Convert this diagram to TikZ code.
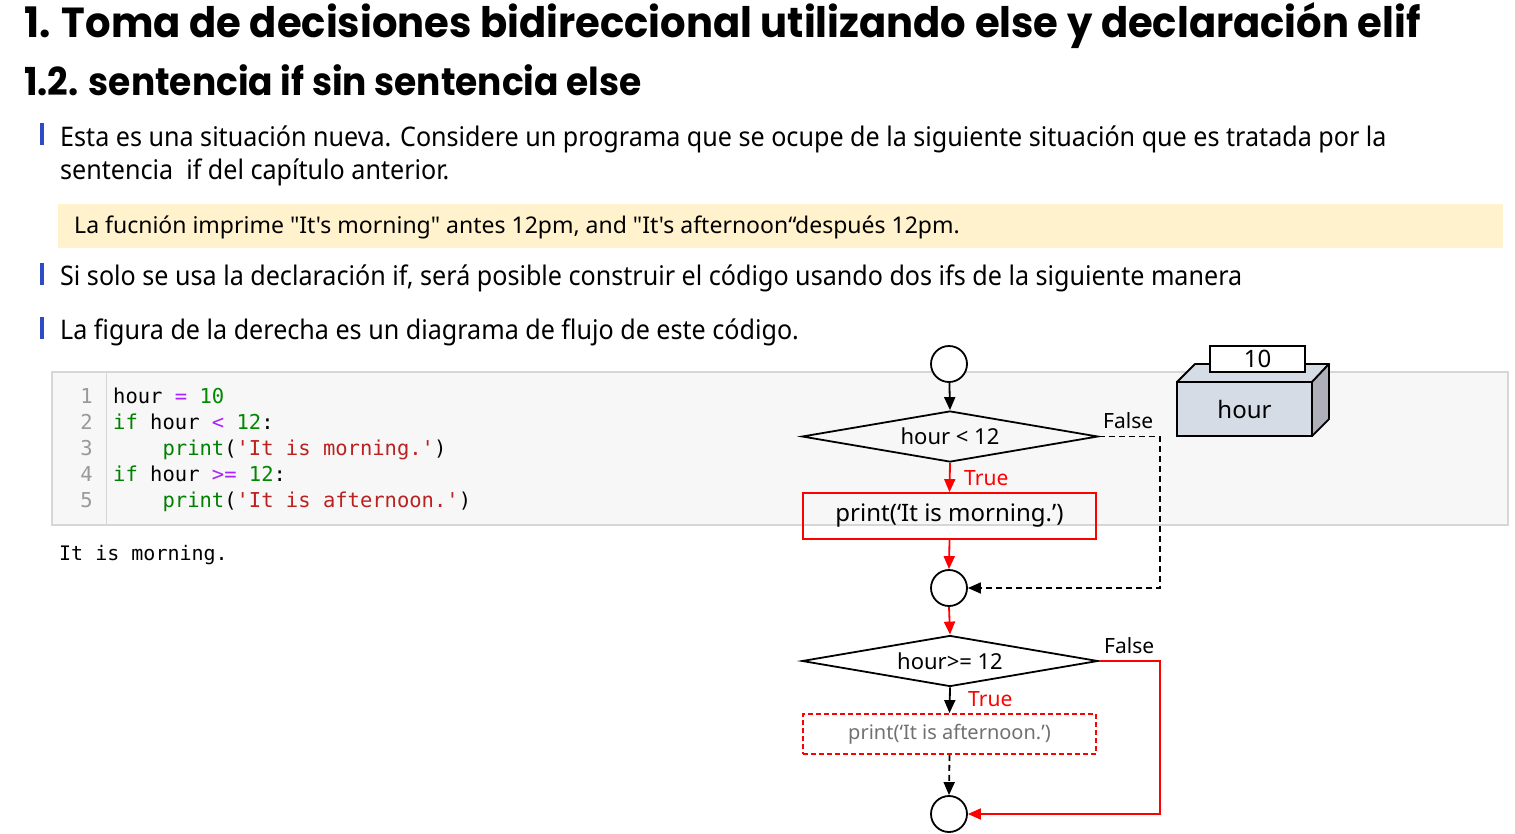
\documentclass[tikz,border=0pt]{standalone}
\usepackage{fontspec}
\usetikzlibrary{shapes.geometric,arrows.meta}
\newfontfamily\bodyfont{Noto Sans}[FakeStretch=0.93]
\newfontfamily\flowfont{Noto Sans}
\newfontfamily\titlefont{Poppins}[FakeStretch=0.955]
\newfontfamily\subtitlefont{Poppins}[FakeStretch=0.935]
\newfontfamily\codefont{DejaVu Sans Mono}
\definecolor{bulletblue}{HTML}{2E4BC6}
\definecolor{notebg}{HTML}{FFF2CC}
\definecolor{codebg}{HTML}{F7F7F7}
\definecolor{codeborder}{HTML}{D6D6D6}
\definecolor{kw}{HTML}{008000}
\definecolor{num}{HTML}{008800}
\definecolor{op}{HTML}{AA22FF}
\definecolor{str}{HTML}{BA2121}
\definecolor{lno}{HTML}{999999}
\definecolor{boxfront}{HTML}{D6DCE5}
\definecolor{boxside}{HTML}{ADB0B8}
\definecolor{flowred}{HTML}{FF0000}
\definecolor{dimtext}{HTML}{707070}
\tikzset{
  body/.style={font=\bodyfont\fontsize{27}{30}\selectfont, inner sep=0, anchor=base west},
  notetext/.style={font=\flowfont\fontsize{23}{28}\selectfont, inner sep=0, anchor=base west},
  bar/.style={fill=bulletblue, draw=none},
  codetext/.style={font=\codefont\fontsize{20.5}{24}\selectfont, inner sep=0, anchor=base west},
  lnum/.style={font=\codefont\fontsize{20.5}{24}\selectfont, inner sep=0, anchor=base east, text=lno},
  conn/.style={circle, draw, line width=1.8pt, fill=white, minimum size=36pt, inner sep=0},
  decision/.style={diamond, draw, line width=1.8pt, aspect=5.8, minimum width=296pt, minimum height=51pt, inner sep=0, font=\flowfont\fontsize{22}{26}\selectfont},
  proc/.style={rectangle, draw=flowred, line width=1.8pt, minimum width=293pt, inner sep=0, font=\flowfont\fontsize{24}{28}\selectfont},
  arr/.style={line width=1.8pt, -{Triangle[length=13pt,width=11pt]}},
  dash1/.style={dash pattern=on 6pt off 4pt},
  lbl/.style={font=\flowfont\fontsize{21}{24}\selectfont, inner sep=0, anchor=base west},
}
\begin{document}
\begin{tikzpicture}[x=1pt,y=-1pt]
\useasboundingbox (0,0) rectangle (1515,833);
% titles
\node[anchor=base west, inner sep=0, font=\titlefont\bfseries\fontsize{42}{48}\selectfont] (t1) at (24,37) {1. Toma de decisiones bidireccional utilizando else y declaración elif};
\node[anchor=base west, inner sep=0, font=\subtitlefont\bfseries\fontsize{38.5}{44}\selectfont] (t2) at (24,95) {1.2. sentencia if sin sentencia else};
% bullets
\fill[bar] (40,123) rectangle (44,145);
\fill[bar] (40,263) rectangle (44,285);
\fill[bar] (40,317) rectangle (44,339);
\node[body] (b1) at (60,146) {Esta es una situación nueva. Considere un programa que se ocupe de la siguiente situación que es tratada por la};
\node[body] (b1b) at (60,179) {sentencia\ \ if del capítulo anterior.};
\fill[notebg] (58,204) rectangle (1503,248);
\node[notetext] (nt) at (74,233) {La fucnión imprime "It's morning" antes 12pm, and "It's afternoon“después 12pm.};
\node[body] (b2) at (60,285) {Si solo se usa la declaración if, será posible construir el código usando dos ifs de la siguiente manera};
\node[body] (b3) at (60,339) {La figura de la derecha es un diagrama de flujo de este código.};
% code box
\draw[fill=codebg, draw=codeborder, line width=1.5pt] (52,372) rectangle (1508,525);
\draw[codeborder, line width=1pt] (106,373) -- (106,524);
\node[lnum] (n1) at (93,403) {1};
\node[lnum] (n2) at (93,429) {2};
\node[lnum] (n3) at (93,455) {3};
\node[lnum] (n4) at (93,481) {4};
\node[lnum] (n5) at (93,507) {5};
\node[codetext] (c1) at (113,403) {hour \textcolor{op}{=} \textcolor{num}{10}};
\node[codetext] (c2) at (113,429) {\textcolor{kw}{if} hour \textcolor{op}{<} \textcolor{num}{12}:};
\node[codetext] (c3) at (113,455) {\ \ \ \ \textcolor{kw}{print}(\textcolor{str}{'It is morning.'})};
\node[codetext] (c4) at (113,481) {\textcolor{kw}{if} hour \textcolor{op}{>=} \textcolor{num}{12}:};
\node[codetext] (c5) at (113,507) {\ \ \ \ \textcolor{kw}{print}(\textcolor{str}{'It is afternoon.'})};
\node[codetext, font=\codefont\fontsize{20}{24}\selectfont] (out) at (59,560) {It is morning.};
% variable box
\draw[line width=1.8pt, fill=boxfront, line join=round] (1177,382) -- (1195,364) -- (1329,364) -- (1312,382) -- cycle;
\draw[line width=1.8pt, fill=boxside, line join=round] (1312,382) -- (1329,364) -- (1329,419) -- (1312,436) -- cycle;
\node[draw, line width=1.8pt, fill=boxfront, minimum width=135pt, minimum height=54pt, inner sep=0, font=\flowfont\fontsize{24}{28}\selectfont] (hb) at (1244.5,409) {hour};
\node[draw, line width=1.8pt, fill=white, minimum width=95pt, minimum height=26pt, inner sep=0, font=\flowfont\fontsize{24}{28}\selectfont] (hv) at (1257.5,359) {10};
% flowchart
\node[conn] (s1) at (949,364) {};
\node[decision] (d1) at (950,436.5) {hour < 12};
\node[proc, minimum height=46pt] (p1) at (949.5,516) {print(‘It is morning.’)};
\node[conn] (s2) at (949,588) {};
\node[decision] (d2) at (950,661) {hour>= 12};
\node[proc, dash pattern=on 5pt off 3pt, minimum height=40pt, text=dimtext, font=\flowfont\fontsize{20}{24}\selectfont] (p2) at (949.5,734) {print(‘It is afternoon.’)};
\node[conn] (s3) at (949,814) {};
\draw[arr] (s1) -- (d1.north);
\draw[arr, flowred] (d1.south) -- (p1.north);
\draw[arr, flowred] (p1.south) -- (s2.north);
\draw[arr, dash1] (d1.east) -- ++(61,0) |- (s2.east);
\draw[arr, flowred] (s2.south) -- (d2.north);
\draw[arr] (d2.south) -- (p2.north);
\draw[arr, dash1] (p2.south) -- (s3.north);
\draw[arr, flowred] (d2.east) -- ++(61,0) |- (s3.east);
\node[lbl] (f1) at (1103,428) {False};
\node[lbl, text=flowred] (tr1) at (964,485) {True};
\node[lbl] (f2) at (1104,653) {False};
\node[lbl, text=flowred] (tr2) at (968,706) {True};
\end{tikzpicture}
\end{document}
